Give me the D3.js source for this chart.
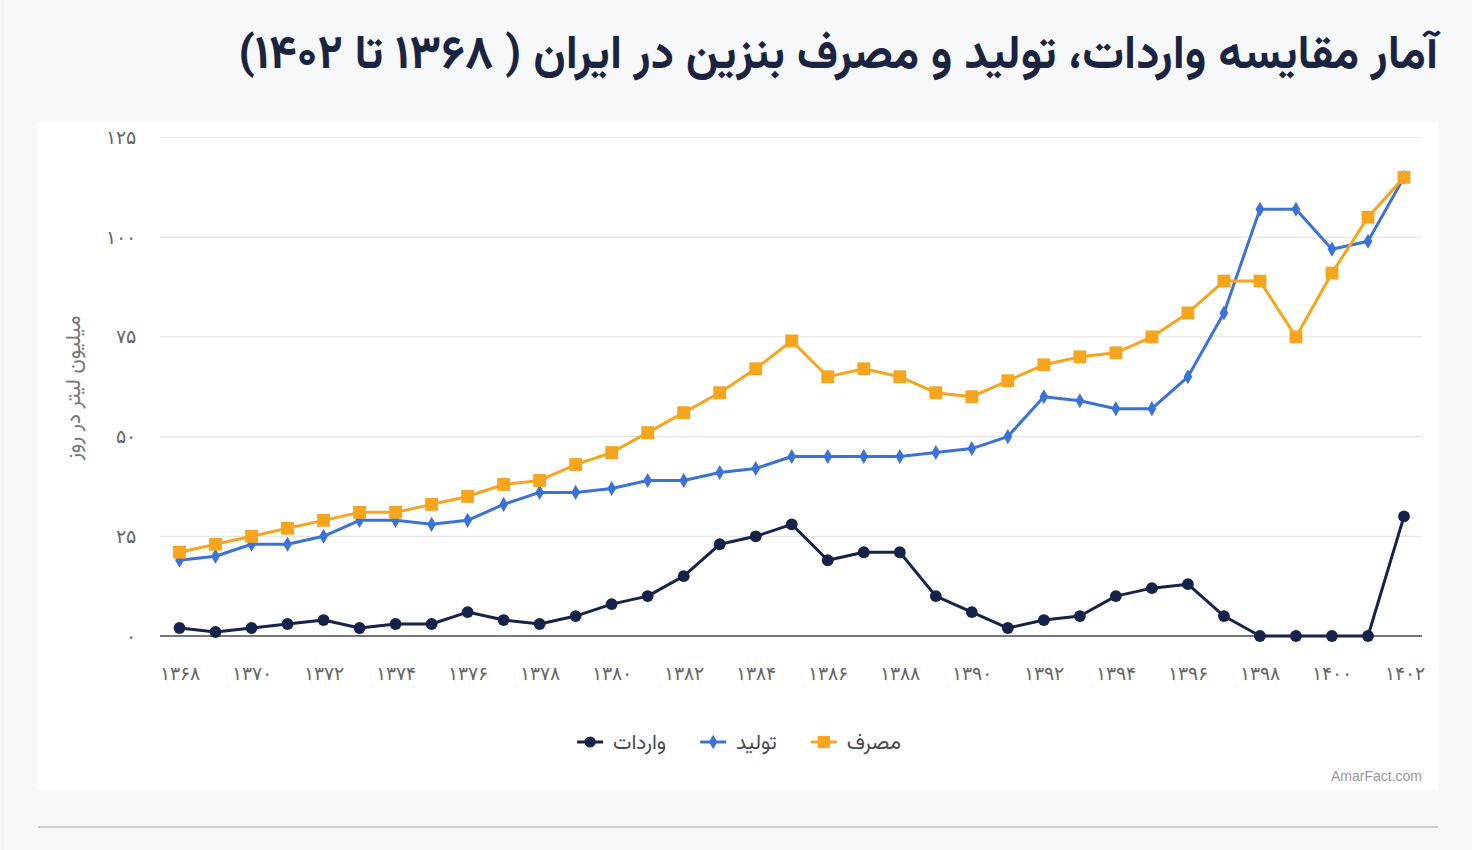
<!DOCTYPE html>
<html><head><meta charset="utf-8">
<script src="https://cdn.jsdelivr.net/npm/d3@7"></script>
<style>
body{margin:0;background:#f7f8fa;}
svg{display:block;font-family:"Vazirmatn","Noto Sans Arabic","DejaVu Sans",sans-serif;}
</style>
</head><body>
<svg id="chart" width="1472" height="850"></svg>
<script>
// ---------- data ----------
const years = [1368,1369,1370,1371,1372,1373,1374,1375,1376,1377,1378,1379,1380,1381,1382,1383,1384,1385,1386,1387,1388,1389,1390,1391,1392,1393,1394,1395,1396,1397,1398,1399,1400,1401,1402];
const imports     = [2,1,2,3,4,2,3,3,6,4,3,5,8,10,15,23,25,28,19,21,21,10,6,2,4,5,10,12,13,5,0,0,0,0,30];
const production  = [19,20,23,23,25,29,29,28,29,33,36,36,37,39,39,41,42,45,45,45,45,46,47,50,60,59,57,57,65,81,107,107,97,99,115];
const consumption = [21,23,25,27,29,31,31,33,35,38,39,43,46,51,56,61,67,74,65,67,65,61,60,64,68,70,71,75,81,89,89,75,91,105,115];
const yTicks = [0,25,50,75,100,125];
const xTickYears = [1368,1370,1372,1374,1376,1378,1380,1382,1384,1386,1388,1390,1392,1394,1396,1398,1400,1402];
const seriesNames = ["واردات","تولید","مصرف"];
const titleText = "آمار مقایسه واردات، تولید و مصرف بنزین در ایران ( ۱۳۶۸ تا ۱۴۰۲)";
const yTitle = "میلیون لیتر در روز";
const watermark = "AmarFact.com";

// ---------- helpers ----------
const fa = s => String(s).replace(/\d/g, d => "۰۱۲۳۴۵۶۷۸۹"[d]);
const svg = d3.select("#chart");
const colors = ["#15234a", "#3b72d8", "#f7a51d"];
const symbols = [d3.symbolCircle, d3.symbolDiamond, d3.symbolSquare];
const symSizes = [110, 66, 165];

// page decorations
svg.append("line").attr("x1",3).attr("x2",3).attr("y1",0).attr("y2",850).attr("stroke","#e4e6ea").attr("stroke-width",1);
svg.append("rect").attr("x",38).attr("y",122).attr("width",1400).attr("height",668).attr("fill","#ffffff");
svg.append("line").attr("x1",38).attr("x2",1438).attr("y1",827).attr("y2",827).attr("stroke","#cfd1d4").attr("stroke-width",2);

// title (right-aligned, RTL)
const title = svg.append("text").attr("x",1438).attr("y",68)
  .style("direction","rtl").attr("text-anchor","start")
  .attr("font-weight","bold").attr("font-size",36).attr("fill","#1a2340")
  .text(titleText);
{
  const w = title.node().getComputedTextLength();
  title.attr("font-size", Math.min(47, 36 * 1200 / w));
}

// scales
const x = d3.scalePoint().domain(years).range([179.5, 1404]);
const y = d3.scaleLinear().domain([0,125]).range([636, 137.5]);

// gridlines
svg.append("g").selectAll("line").data(yTicks.filter(t=>t>0)).join("line")
  .attr("x1",160).attr("x2",1422).attr("y1",d=>y(d)).attr("y2",d=>y(d))
  .attr("stroke","#e6e6e6").attr("stroke-width",1.2);

// y axis labels
const yAxis = d3.axisLeft(y).tickValues(yTicks).tickFormat(fa).tickSize(0).tickPadding(0);
const gy = svg.append("g").attr("transform","translate(136,0)").call(yAxis);
gy.select(".domain").remove();
gy.selectAll("text").attr("font-size",19).attr("fill","#666").attr("font-family",null);

// baseline
svg.append("line").attr("x1",160).attr("x2",1422).attr("y1",y(0)).attr("y2",y(0))
  .attr("stroke","#4a4a4a").attr("stroke-width",1.6);

// x axis labels
const xAxis = d3.axisBottom(x).tickValues(xTickYears).tickFormat(fa).tickSize(0).tickPadding(0);
const gx = svg.append("g").attr("transform","translate(0,666)").call(xAxis);
gx.select(".domain").remove();
gx.selectAll("text").attr("font-size",19).attr("fill","#666").attr("font-family",null);

// y title
svg.append("text").attr("transform","translate(80,388) rotate(-90)")
  .attr("text-anchor","middle").style("direction","rtl")
  .attr("font-size",21).attr("fill","#777").text(yTitle);

// series
const allSeries = [imports, production, consumption];
const line = d3.line().x((d,i)=>x(years[i])).y(d=>y(d));
allSeries.forEach((vals, si) => {
  const g = svg.append("g");
  g.append("path").datum(vals).attr("d", line).attr("fill","none")
    .attr("stroke", colors[si]).attr("stroke-width", 3).attr("stroke-linejoin","round");
  g.selectAll("path.m").data(vals).join("path").attr("class","m")
    .attr("transform",(d,i)=>`translate(${x(years[i])},${y(d)})`)
    .attr("d", d3.symbol().type(symbols[si]).size(symSizes[si]))
    .attr("fill", colors[si]);
});

// legend
const lg = svg.append("g");
const items = [];
seriesNames.forEach((name, si) => {
  const g = lg.append("g");
  g.append("line").attr("x1",0).attr("x2",26).attr("y1",0).attr("y2",0).attr("stroke",colors[si]).attr("stroke-width",3);
  g.append("path").attr("transform","translate(13,0)").attr("d", d3.symbol().type(symbols[si]).size(symSizes[si]*0.9)).attr("fill",colors[si]);
  const t = g.append("text").attr("y",7).attr("font-size",21).attr("fill","#4a4a4a")
    .style("direction","rtl").attr("text-anchor","start").text(name);
  const w = t.node().getComputedTextLength();
  t.attr("x", 36 + w);
  items.push({g, w: 36 + w});
});
const gap = 34;
const total = d3.sum(items, d=>d.w) + gap*(items.length-1);
let cx = 739 - total/2;
items.forEach(it => { it.g.attr("transform",`translate(${cx},742)`); cx += it.w + gap; });

// watermark
svg.append("text").attr("x",1422).attr("y",781).attr("text-anchor","end")
  .attr("font-family","Arial, 'Liberation Sans', sans-serif").attr("font-size",14).attr("fill","#999")
  .text(watermark);
</script>
</body></html>
